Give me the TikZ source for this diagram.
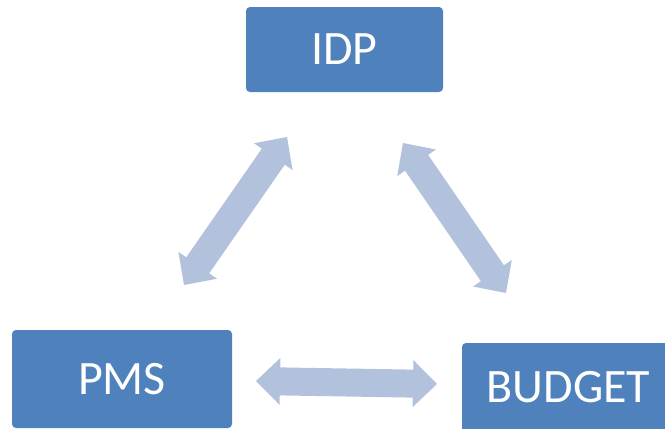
\documentclass[tikz,border=0pt]{standalone}
\usepackage{fontspec}
\setmainfont{Carlito}
\usetikzlibrary{calc}
\definecolor{boxc}{HTML}{4F81BD}
\definecolor{arrowc}{HTML}{B2C2DD}
\tikzset{
  blockbox/.style={rectangle, rounded corners=4pt, fill=boxc, draw=none, text=white,
    inner sep=0pt, font=\fontsize{48}{58}\selectfont},
}
\newcommand\dblarrow[2]{%
  \path ($(#1)!24pt!(#2)$) coordinate (h1) ($(#2)!24pt!(#1)$) coordinate (h2);
  \fill[arrowc] (#1) -- ($(h1)!23.5pt!90:(#2)$) -- ($(h1)!14pt!90:(#2)$)
    -- ($(h2)!14pt!-90:(#1)$) -- ($(h2)!23.5pt!-90:(#1)$) -- (#2)
    -- ($(h2)!23.5pt!90:(#1)$) -- ($(h2)!14pt!90:(#1)$)
    -- ($(h1)!14pt!-90:(#2)$) -- ($(h1)!23.5pt!-90:(#2)$) -- cycle;
}
\begin{document}
\begin{tikzpicture}[x=1pt,y=-1pt]
\useasboundingbox (0,0) rectangle (665,429);
\node[blockbox, minimum width=197pt, minimum height=85pt] (idp) at (344.5,49.5) {IDP};
\node[blockbox, minimum width=220pt, minimum height=98pt] (pms) at (122,379) {PMS};
\node[blockbox, minimum width=213pt, minimum height=89pt] (budget) at (568.5,387.5) {BUDGET};
\coordinate (a1) at (287,137);
\coordinate (a2) at (184,285);
\coordinate (b1) at (403,143);
\coordinate (b2) at (506,293);
\coordinate (c1) at (256,381);
\coordinate (c2) at (437,384);
\dblarrow{a1}{a2}
\dblarrow{b1}{b2}
\dblarrow{c1}{c2}
\end{tikzpicture}
\end{document}
